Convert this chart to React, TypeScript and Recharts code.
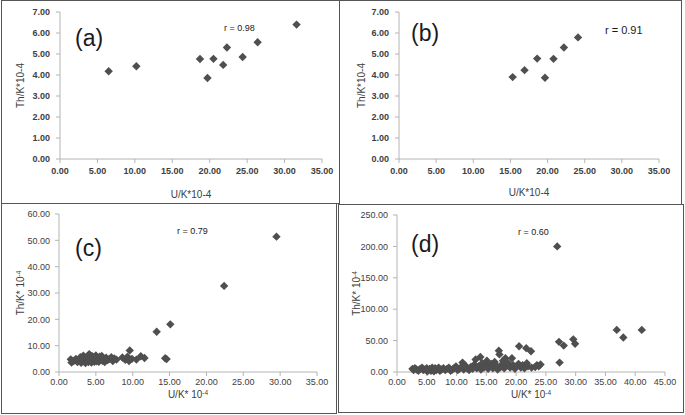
import React from 'react';
import { ScatterChart, Scatter, XAxis, YAxis, Label } from 'recharts';

// tick values
const xTicks35 = [0, 5, 10, 15, 20, 25, 30, 35];
const xTicks45 = [0, 5, 10, 15, 20, 25, 30, 35, 40, 45];
const yTicks7 = [0, 1, 2, 3, 4, 5, 6, 7];
const yTicks60 = [0, 10, 20, 30, 40, 50, 60];
const yTicks250 = [0, 50, 100, 150, 200, 250];

// [U/K, Th/K]
const pointsA: [number, number][] = [
  [6.5, 4.18], [10.2, 4.42], [18.7, 4.76], [19.7, 3.86], [20.5, 4.77],
  [21.8, 4.48], [22.3, 5.31], [24.4, 4.86], [26.4, 5.56], [31.6, 6.4],
];

const pointsB: [number, number][] = [
  [15.3, 3.9], [16.9, 4.23], [18.6, 4.78], [19.65, 3.87], [20.8, 4.77],
  [22.2, 5.31], [24.1, 5.79],
];

const pointsC: [number, number][] = [
  [1.6, 4.8], [1.7, 3.6], [2.0, 4.2], [2.3, 5.0], [2.5, 3.8], [2.7, 4.5],
  [2.9, 5.6], [3.0, 3.5], [3.1, 4.9], [3.3, 6.2], [3.4, 4.0], [3.5, 5.3],
  [3.6, 3.4], [3.8, 4.6], [3.9, 5.8], [4.0, 3.8], [4.1, 6.8], [4.2, 4.4],
  [4.3, 5.1], [4.4, 3.6], [4.5, 6.0], [4.6, 4.2], [4.7, 5.5], [4.8, 3.9],
  [4.9, 4.8], [5.0, 6.3], [5.1, 4.1], [5.2, 5.2], [5.4, 3.9], [5.5, 5.8],
  [5.6, 4.6], [5.8, 6.1], [5.9, 4.3], [6.0, 5.0], [6.2, 3.8], [6.4, 5.4],
  [6.6, 4.5], [6.8, 4.9], [7.1, 5.6], [7.3, 4.2], [7.5, 5.1], [7.8, 4.7],
  [8.6, 5.5], [9.0, 4.6], [9.3, 5.8], [9.5, 4.2], [9.6, 8.2], [9.9, 5.0],
  [10.5, 4.7], [11.1, 6.0], [11.6, 5.3], [13.25, 15.3], [14.4, 5.2],
  [14.6, 4.9], [15.1, 18.1], [22.4, 32.7], [29.5, 51.4],
];

const pointsD: [number, number][] = [
  [2.6, 5], [2.8, 3], [3.0, 6], [3.3, 4], [3.6, 2], [3.9, 5], [4.2, 7],
  [4.4, 3], [4.7, 4], [5.0, 6], [5.1, 1], [5.3, 3], [5.5, 5], [5.7, 2],
  [5.9, 7], [6.0, 4], [6.2, 1], [6.4, 6], [6.6, 3], [6.8, 5], [7.0, 7],
  [7.2, 2], [7.5, 4], [7.8, 6], [8.1, 3], [8.4, 5], [8.7, 7], [9.0, 2],
  [9.3, 4], [9.6, 6], [9.9, 9], [10.2, 3], [10.5, 5], [10.8, 8], [11.0, 15],
  [11.2, 4], [11.5, 10], [11.8, 6], [12.1, 3], [12.4, 8], [12.7, 5],
  [13.0, 12], [13.2, 20], [13.4, 6], [13.7, 9], [14.0, 24], [14.1, 4],
  [14.3, 14], [14.6, 7], [14.9, 11], [15.1, 18], [15.3, 5], [15.6, 9],
  [15.9, 13], [16.1, 6], [16.4, 16], [16.7, 10], [16.9, 4], [17.1, 34],
  [17.2, 28], [17.4, 8], [17.6, 12], [17.8, 18], [18.0, 6], [18.2, 22],
  [18.4, 10], [18.7, 14], [19.0, 7], [19.3, 22], [19.5, 11], [19.8, 5],
  [20.1, 9], [20.4, 13], [20.5, 41], [20.8, 7], [21.1, 11], [21.4, 6],
  [21.7, 38], [21.8, 14], [22.0, 9], [22.5, 33], [22.6, 7], [23.2, 8],
  [23.5, 11], [23.8, 9], [24.1, 12], [26.9, 200], [27.2, 48], [27.3, 15],
  [28.0, 42], [29.6, 52], [29.9, 45], [36.9, 67], [38.0, 55], [41.1, 67],
];

const toRows = (pts: [number, number][]) => pts.map(([u, th]) => ({ u, th }));

const Diamond = (props: any) => {
  const { cx, cy } = props;
  const r = 4.2;
  return (
    <polygon
      points={`${cx},${cy - r} ${cx + r},${cy} ${cx},${cy + r} ${cx - r},${cy}`}
      fill="#4f4f4f"
    />
  );
};

const XTitle = ({ viewBox, text, sup, offset }: any) => {
  const cx = viewBox.x + viewBox.width / 2;
  const y = viewBox.y + viewBox.height - offset;
  return (
    <text x={cx} y={y} textAnchor="middle" fontSize={10} fill="#404040" fontFamily="Liberation Sans">
      <tspan>{text}</tspan>
      {sup && <tspan dy={-3} fontSize={6.5}>{sup}</tspan>}
    </text>
  );
};

const YTitle = ({ viewBox, text, sup, offset }: any) => {
  const x = viewBox.x + offset;
  const cy = viewBox.y + viewBox.height / 2;
  return (
    <text
      x={x}
      y={cy}
      dy={3.5}
      textAnchor="middle"
      fontSize={10}
      fill="#404040"
      fontFamily="Liberation Sans"
      transform={`rotate(-90, ${x}, ${cy})`}
    >
      <tspan>{text}</tspan>
      {sup && <tspan dy={-3} fontSize={6.5}>{sup}</tspan>}
    </text>
  );
};

const fmt = (v: number) => v.toFixed(2);
const axisGray = '#b4b4b4';

interface PanelProps {
  left: number;
  top: number;
  width: number;
  height: number;
  points: [number, number][];
  xTicks: number[];
  yTicks: number[];
  margin: { top: number; right: number; bottom: number; left: number };
  xTitle: string;
  yTitle: string;
  sup?: string;
  xTitleOffset: number;
  yTitleOffset: number;
  bold?: boolean;
  tickMarginX: number;
  tickMarginY: number;
}

const Panel = (p: PanelProps) => {
  const tick = {
    fontSize: 9,
    fill: '#404040',
    fontFamily: 'Liberation Sans',
    fontWeight: p.bold ? 'bold' : 'normal',
  };
  const xMax = p.xTicks[p.xTicks.length - 1];
  const yMax = p.yTicks[p.yTicks.length - 1];
  return (
    <div style={{ position: 'absolute', left: p.left, top: p.top }}>
      <ScatterChart width={p.width} height={p.height} margin={p.margin}>
        <XAxis
          type="number"
          dataKey="u"
          domain={[0, xMax]}
          ticks={p.xTicks}
          tickFormatter={fmt}
          tick={tick}
          tickSize={4}
          tickMargin={p.tickMarginX}
          axisLine={{ stroke: axisGray }}
          tickLine={{ stroke: axisGray }}
          height={40}
          interval={0}
        >
          <Label
            content={(lp: any) => (
              <XTitle viewBox={lp.viewBox} text={p.xTitle} sup={p.sup} offset={p.xTitleOffset} />
            )}
          />
        </XAxis>
        <YAxis
          type="number"
          dataKey="th"
          domain={[0, yMax]}
          ticks={p.yTicks}
          tickFormatter={fmt}
          tick={tick}
          tickSize={4}
          tickMargin={p.tickMarginY}
          axisLine={{ stroke: axisGray }}
          tickLine={{ stroke: axisGray }}
          width={50}
          interval={0}
        >
          <Label
            content={(lp: any) => (
              <YTitle viewBox={lp.viewBox} text={p.yTitle} sup={p.sup} offset={p.yTitleOffset} />
            )}
          />
        </YAxis>
        <Scatter data={toRows(p.points)} shape={<Diamond />} isAnimationActive={false} />
      </ScatterChart>
    </div>
  );
};

const Box = ({ left, top, width, height }: any) => (
  <div
    style={{
      position: 'absolute',
      left,
      top,
      width,
      height,
      boxSizing: 'border-box',
      border: '1px solid #555',
      pointerEvents: 'none',
    }}
  />
);

const Note = ({ left, cy, size, children }: any) => (
  <div
    style={{
      position: 'absolute',
      left,
      top: cy - size / 2,
      fontSize: size,
      lineHeight: 1,
      fontFamily: 'Liberation Sans',
      color: '#1a1a1a',
      whiteSpace: 'nowrap',
    }}
  >
    {children}
  </div>
);

export default function App() {
  return (
    <div
      style={{
        position: 'absolute',
        left: 0,
        top: 0,
        width: 685,
        height: 415,
        background: '#fff',
        overflow: 'hidden',
      }}
    >
      <Panel
        left={0}
        top={0}
        width={340}
        height={203}
        points={pointsA}
        xTicks={xTicks35}
        yTicks={yTicks7}
        margin={{ top: 12, right: 18, bottom: 4, left: 10 }}
        xTitle="U/K*10-4"
        yTitle="Th/K*10-4"
        xTitleOffset={1}
        yTitleOffset={10}
        bold
        tickMarginX={5}
        tickMarginY={6}
      />
      <Panel
        left={339}
        top={0}
        width={343}
        height={204}
        points={pointsB}
        xTicks={xTicks35}
        yTicks={yTicks7}
        margin={{ top: 12, right: 23, bottom: 5, left: 10 }}
        xTitle="U/K*10-4"
        yTitle="Th/K*10-4"
        xTitleOffset={3}
        yTitleOffset={12}
        bold
        tickMarginX={5}
        tickMarginY={6}
      />
      <Panel
        left={0}
        top={203}
        width={337}
        height={211}
        points={pointsC}
        xTicks={xTicks35}
        yTicks={yTicks60}
        margin={{ top: 11, right: 20, bottom: 2, left: 9 }}
        xTitle="U/K* 10"
        yTitle="Th/K* 10"
        sup="-4"
        xTitleOffset={14}
        yTitleOffset={11}
        tickMarginX={3}
        tickMarginY={5}
      />
      <Panel
        left={338}
        top={204}
        width={345}
        height={208}
        points={pointsD}
        xTicks={xTicks45}
        yTicks={yTicks250}
        margin={{ top: 11, right: 18, bottom: 0, left: 9 }}
        xTitle="U/K* 10"
        yTitle="Th/K* 10"
        sup="-4"
        xTitleOffset={14}
        yTitleOffset={9}
        tickMarginX={3}
        tickMarginY={5}
      />

      <Box left={1} top={0} width={339} height={204} />
      <Box left={339} top={0} width={343} height={205} />
      <Box left={1} top={203} width={336} height={211} />
      <Box left={338} top={204} width={346} height={209} />

      <Note left={75} cy={38} size={23}>(a)</Note>
      <Note left={224} cy={28} size={9}>r = 0.98</Note>
      <Note left={411} cy={33} size={23}>(b)</Note>
      <Note left={605} cy={30} size={11}>r = 0.91</Note>
      <Note left={75} cy={248} size={23}>(c)</Note>
      <Note left={177} cy={231} size={9}>r = 0.79</Note>
      <Note left={411} cy={244} size={23}>(d)</Note>
      <Note left={518} cy={232} size={9}>r = 0.60</Note>
    </div>
  );
}
